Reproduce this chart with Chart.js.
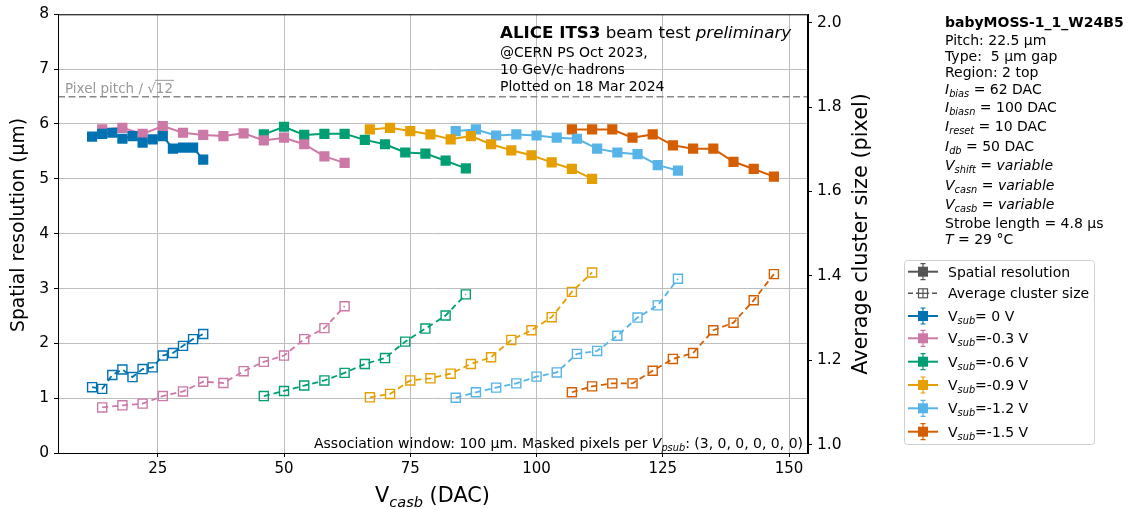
<!DOCTYPE html>
<html>
<head>
<meta charset="utf-8">
<script src="https://cdn.jsdelivr.net/npm/chart.js@4/dist/chart.umd.min.js"></script>
<style>body{margin:0;background:#fff}</style>
</head>
<body>
<canvas id="resChart" width="1133" height="509"></canvas>
<script>
// V_casb scan points (DAC) for each V_sub
const vcasb00 = [12, 14, 16, 18, 20, 22, 24, 26, 28, 30, 32, 34];
const vcasb03 = [14, 18, 22, 26, 30, 34, 38, 42, 46, 50, 54, 58, 62];
const vcasb06 = [46, 50, 54, 58, 62, 66, 70, 74, 78, 82, 86];
const vcasb09 = [67, 71, 75, 79, 83, 87, 91, 95, 99, 103, 107, 111];
const vcasb12 = [84, 88, 92, 96, 100, 104, 108, 112, 116, 120, 124, 128];
const vcasb15 = [107, 111, 115, 119, 123, 127, 131, 135, 139, 143, 147];

// spatial resolution (um)
const res00 = [5.77, 5.82, 5.84, 5.73, 5.78, 5.66, 5.72, 5.78, 5.55, 5.57, 5.57, 5.35];
const res03 = [5.90, 5.93, 5.82, 5.96, 5.84, 5.80, 5.78, 5.83, 5.70, 5.75, 5.63, 5.41, 5.29];
const res06 = [5.81, 5.95, 5.80, 5.82, 5.82, 5.71, 5.63, 5.48, 5.46, 5.33, 5.19];
const res09 = [5.90, 5.93, 5.87, 5.81, 5.72, 5.78, 5.63, 5.52, 5.43, 5.30, 5.18, 5.00];
const res12 = [5.87, 5.90, 5.79, 5.81, 5.79, 5.75, 5.73, 5.55, 5.48, 5.45, 5.25, 5.15];
const res15 = [5.90, 5.90, 5.90, 5.75, 5.81, 5.61, 5.55, 5.55, 5.31, 5.18, 5.04];

// average cluster size (pixel)
const cls00 = [1.136, 1.132, 1.165, 1.178, 1.160, 1.179, 1.183, 1.211, 1.217, 1.234, 1.250, 1.262];
const cls03 = [1.088, 1.093, 1.097, 1.115, 1.126, 1.149, 1.146, 1.174, 1.196, 1.211, 1.250, 1.276, 1.328];
const cls06 = [1.115, 1.127, 1.140, 1.152, 1.170, 1.191, 1.205, 1.244, 1.275, 1.306, 1.356];
const cls09 = [1.112, 1.120, 1.152, 1.157, 1.168, 1.191, 1.207, 1.248, 1.271, 1.302, 1.362, 1.408];
const cls12 = [1.111, 1.124, 1.135, 1.145, 1.161, 1.171, 1.215, 1.222, 1.258, 1.301, 1.330, 1.393];
const cls15 = [1.124, 1.138, 1.145, 1.145, 1.175, 1.203, 1.217, 1.271, 1.289, 1.342, 1.404];

const vsubLabels = ["0", "-0.3", "-0.6", "-0.9", "-1.2", "-1.5"];
const xTicks = [25, 50, 75, 100, 125, 150];
const y2Ticks = [1.0, 1.2, 1.4, 1.6, 1.8, 2.0];
const pixelPitch = 22.5;

const xSets = [vcasb00, vcasb03, vcasb06, vcasb09, vcasb12, vcasb15];
const resSets = [res00, res03, res06, res09, res12, res15];
const clsSets = [cls00, cls03, cls06, cls09, cls12, cls15];
const colors = ["#0072B2", "#CC79A7", "#009E73", "#E69F00", "#56B4E9", "#D55E00"];

const FONT = "'DejaVu Sans'";
Chart.defaults.font.family = FONT;
Chart.defaults.color = "#000";

// text made of parts: {t, b, i, sub}
function richWidth(ctx, parts, size, fam) {
    let w = 0;
    for (const p of parts) {
        const sz = p.sub ? size * 0.7 : size;
        ctx.font = `${p.i || p.sub ? "italic " : ""}${p.b ? "bold " : ""}${sz}px ${fam || FONT}`;
        w += ctx.measureText(p.t).width;
    }
    return w;
}
function drawRich(ctx, x, y, parts, size, fam) {
    let cx = x;
    ctx.textAlign = "left";
    ctx.textBaseline = "alphabetic";
    for (const p of parts) {
        const sz = p.sub ? size * 0.7 : size;
        ctx.font = `${p.i || p.sub ? "italic " : ""}${p.b ? "bold " : ""}${sz}px ${fam || FONT}`;
        ctx.fillText(p.t, cx, y + (p.sub ? size * 0.22 : 0));
        cx += ctx.measureText(p.t).width;
    }
    return cx;
}
// rotated axis title, font size picked so the text spans `len` px
function vertTitle(ctx, text, cx, cy, len) {
    ctx.save();
    ctx.font = `20px ${FONT}`;
    const size = 20 * len / ctx.measureText(text).width;
    ctx.translate(cx, cy);
    ctx.rotate(-Math.PI / 2);
    ctx.font = `${size}px ${FONT}`;
    ctx.textAlign = "center";
    ctx.textBaseline = "middle";
    ctx.fillText(text, 0, 0);
    ctx.restore();
}

const datasets = [];
for (let i = 0; i < 6; i++) {
    datasets.push({
        label: "res " + vsubLabels[i],
        data: xSets[i].map((x, j) => ({ x: x, y: resSets[i][j] })),
        yAxisID: "y",
        borderColor: colors[i],
        backgroundColor: colors[i],
        borderWidth: 2,
        pointStyle: "rect",
        pointRadius: 7.2,
        pointBorderWidth: 0,
        pointBackgroundColor: colors[i]
    });
    datasets.push({
        label: "cls " + vsubLabels[i],
        data: xSets[i].map((x, j) => ({ x: x, y: clsSets[i][j] })),
        yAxisID: "y2",
        borderColor: colors[i],
        borderWidth: 1.8,
        borderDash: [6, 4],
        pointStyle: "rect",
        pointRadius: 6.4,
        pointBorderWidth: 1.4,
        pointBorderColor: colors[i],
        pointBackgroundColor: "rgba(255,255,255,0)"
    });
}

const pitchLine = {
    id: "pitchLine",
    beforeDatasetsDraw(chart) {
        const { ctx, chartArea, scales } = chart;
        const yPix = scales.y.getPixelForValue(pixelPitch / Math.sqrt(12));
        ctx.save();
        ctx.strokeStyle = "#888";
        ctx.lineWidth = 1.6;
        ctx.setLineDash([7, 3.5]);
        ctx.beginPath();
        ctx.moveTo(chartArea.left, yPix);
        ctx.lineTo(chartArea.right, yPix);
        ctx.stroke();
        ctx.setLineDash([]);

        // label
        ctx.fillStyle = "#999";
        ctx.font = `13.5px ${FONT}`;
        ctx.textBaseline = "alphabetic";
        const base = "Pixel pitch / \u221a";
        ctx.fillText(base, chartArea.left + 7, yPix - 4);
        const x12 = chartArea.left + 7 + ctx.measureText(base).width;
        ctx.fillText("12", x12, yPix - 4);
        ctx.strokeStyle = "#999";
        ctx.lineWidth = 1;
        ctx.beginPath();
        ctx.moveTo(x12 - 1, yPix - 16.5);
        ctx.lineTo(x12 + ctx.measureText("12").width + 1, yPix - 16.5);
        ctx.stroke();
        ctx.restore();
    }
};

const frameAndText = {
    id: "frameAndText",
    afterDraw(chart) {
        const { ctx, chartArea } = chart;
        const L = chartArea.left, R = chartArea.right, T = chartArea.top, B = chartArea.bottom;
        ctx.save();
        ctx.strokeStyle = "#000";
        ctx.lineWidth = 1;
        ctx.strokeRect(L + 0.5, T + 0.5, R - L - 1, B - T);

        ctx.fillStyle = "#000";
        // axis titles
        vertTitle(ctx, "Spatial resolution (\u00b5m)", 19.5, 225, 214);
        vertTitle(ctx, "Average cluster size (pixel)", 862, 234, 282);

        const xTitle = [{ t: "V" }, { t: "casb", sub: true }, { t: " (DAC)" }];
        const wx = richWidth(ctx, xTitle, 20);
        const sx = 20 * 115 / wx;
        drawRich(ctx, 375, 502, xTitle, sx);

        // header text inside plot
        drawRich(ctx, 500, 38, [{ t: "ALICE ITS3", b: true }, { t: " beam test " }, { t: "preliminary", i: true }], 16.7);
        drawRich(ctx, 500, 57, [{ t: "@CERN PS Oct 2023," }], 14);
        drawRich(ctx, 500, 74, [{ t: "10 GeV/c hadrons" }], 14);
        drawRich(ctx, 500, 91, [{ t: "Plotted on 18 Mar 2024" }], 14);

        // association window note (condensed to fit)
        const note = [{ t: "Association window: 100 \u00b5m. Masked pixels per " }, { t: "V", i: true },
                      { t: "psub", sub: true }, { t: ": (3, 0, 0, 0, 0, 0)" }];
        const fam2 = "'DejaVu Sans Condensed', 'DejaVu Sans'";
        const wn = richWidth(ctx, note, 14, fam2);
        ctx.save();
        ctx.translate(314, 448);
        ctx.scale(489 / wn, 1);
        drawRich(ctx, 0, 0, note, 14, fam2);
        ctx.restore();

        // info block
        const info = [
            [21.7, [{ t: "babyMOSS-1_1_W24B5", b: true }]],
            [40, [{ t: "Pitch: 22.5 \u00b5m" }]],
            [56, [{ t: "Type:  5 \u00b5m gap" }]],
            [72, [{ t: "Region: 2 top" }]],
            [89, [{ t: "I", i: true }, { t: "bias", sub: true }, { t: " = 62 DAC" }]],
            [107, [{ t: "I", i: true }, { t: "biasn", sub: true }, { t: " = 100 DAC" }]],
            [126, [{ t: "I", i: true }, { t: "reset", sub: true }, { t: " = 10 DAC" }]],
            [146, [{ t: "I", i: true }, { t: "db", sub: true }, { t: " = 50 DAC" }]],
            [165, [{ t: "V", i: true }, { t: "shift", sub: true }, { t: " = " }, { t: "variable", i: true }]],
            [185, [{ t: "V", i: true }, { t: "casn", sub: true }, { t: " = " }, { t: "variable", i: true }]],
            [204, [{ t: "V", i: true }, { t: "casb", sub: true }, { t: " = " }, { t: "variable", i: true }]],
            [223, [{ t: "Strobe length = 4.8 \u00b5s" }]],
            [239, [{ t: "T", i: true }, { t: " = 29 \u00b0C" }]]
        ];
        for (const [cy, parts] of info) {
            drawRich(ctx, 945, cy + 5, parts, 14);
        }

        // legend
        ctx.strokeStyle = "#d0d0d0";
        ctx.lineWidth = 1;
        ctx.beginPath();
        ctx.roundRect(904.5, 260.5, 190, 184, 3);
        ctx.stroke();

        const rows = [
            { c: "#555", dash: false, label: [{ t: "Spatial resolution" }] },
            { c: "#555", dash: true, label: [{ t: "Average cluster size" }] }
        ];
        for (let i = 0; i < 6; i++) {
            rows.push({ c: colors[i], dash: false, label: [{ t: "V" }, { t: "sub", sub: true }, { t: "=" + (i === 0 ? " 0" : vsubLabels[i]) + " V" }] });
        }
        const rowY = [271.7, 293.3, 316, 338.3, 361.7, 385, 408.3, 431.7];
        rows.forEach((r, k) => {
            const y = rowY[k];
            ctx.strokeStyle = r.c;
            ctx.fillStyle = r.c;
            ctx.lineWidth = r.dash ? 1.6 : 2;
            ctx.setLineDash(r.dash ? [5, 3] : []);
            ctx.beginPath();
            ctx.moveTo(908, y);
            ctx.lineTo(938, y);
            ctx.stroke();
            ctx.setLineDash([]);
            ctx.lineWidth = 1.2;
            if (r.dash) {
                ctx.fillStyle = "#fff";
                ctx.fillRect(918.5, y - 4.5, 9, 9);
                ctx.strokeRect(918.5, y - 4.5, 9, 9);
                ctx.beginPath();
                ctx.moveTo(923, y - 4.5); ctx.lineTo(923, y + 4.5);
                ctx.moveTo(918.5, y); ctx.lineTo(927.5, y);
                ctx.stroke();
            } else {
                ctx.fillRect(918, y - 5, 10, 10);
                ctx.beginPath();
                ctx.moveTo(923, y - 8); ctx.lineTo(923, y + 8);
                ctx.moveTo(920.5, y - 8); ctx.lineTo(925.5, y - 8);
                ctx.moveTo(920.5, y + 8); ctx.lineTo(925.5, y + 8);
                ctx.stroke();
            }
            ctx.fillStyle = "#000";
            drawRich(ctx, 948, y + 5, r.label, 14);
        });
        ctx.restore();
    }
};

const canvas = document.getElementById("resChart");
const ctx = canvas.getContext("2d");

const chart = new Chart(ctx, {
    type: "line",
    data: { datasets: datasets },
    options: {
        responsive: false,
        animation: false,
        layout: { padding: { top: 13, left: 0, right: 0, bottom: 0 } },
        plugins: { legend: { display: false }, tooltip: { enabled: false } },
        scales: {
            x: {
                type: "linear",
                min: 5.25,
                max: 153.75,
                afterBuildTicks: s => { s.ticks = xTicks.map(v => ({ value: v })); },
                afterFit: s => { s.height = 56; },
                grid: { color: "#bdbdbd", tickColor: "#000", tickLength: 4 },
                border: { color: "#000" },
                ticks: { font: { size: 15 }, padding: 3, maxRotation: 0 }
            },
            y: {
                type: "linear",
                min: 0,
                max: 8,
                afterFit: s => { s.width = 58; },
                grid: { color: "#bdbdbd", tickColor: "#000", tickLength: 4 },
                border: { color: "#000" },
                ticks: { stepSize: 1, font: { size: 15.5 }, padding: 5 }
            },
            y2: {
                type: "linear",
                position: "right",
                min: 0.98,
                max: 2.02,
                afterBuildTicks: s => { s.ticks = y2Ticks.map(v => ({ value: v })); },
                afterFit: s => { s.width = 325; },
                grid: { drawOnChartArea: false, tickColor: "#000", tickLength: 4 },
                border: { color: "#000" },
                ticks: { font: { size: 15.5 }, padding: 5, callback: v => v.toFixed(1) }
            }
        }
    },
    plugins: [pitchLine, frameAndText]
});
</script>
</body>
</html>
